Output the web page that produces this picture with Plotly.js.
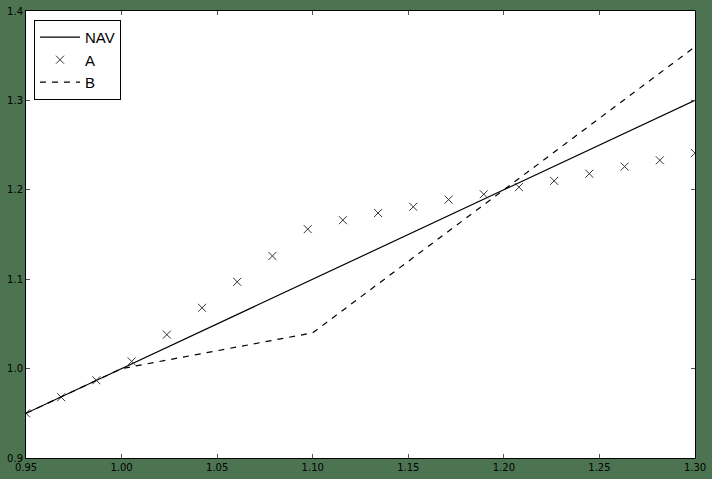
<!DOCTYPE html>
<html>
<head>
<meta charset="utf-8">
<script src="https://cdn.plot.ly/plotly-3.0.1.min.js"></script>
<style>html,body{margin:0;padding:0;background:#4c7450;}#chart{width:712px;height:479px;}</style>
</head>
<body>
<div id="chart"></div>
<script>
const navX = [0.95, 1.30];
const navY = [0.95, 1.30];

const aX = [0.9500, 0.9684, 0.9868, 1.0053, 1.0237, 1.0421, 1.0605, 1.0789, 1.0974, 1.1158,
            1.1342, 1.1526, 1.1711, 1.1895, 1.2079, 1.2263, 1.2447, 1.2632, 1.2816, 1.3000];
const aY = [0.950, 0.968, 0.987, 1.008, 1.038, 1.068, 1.097, 1.126, 1.156, 1.166,
            1.174, 1.181, 1.189, 1.195, 1.203, 1.210, 1.218, 1.226, 1.233, 1.241];

const bX = [0.95, 1.00, 1.10, 1.30];
const bY = [0.95, 1.00, 1.04, 1.36];

const xTicks = [0.95, 1.00, 1.05, 1.10, 1.15, 1.20, 1.25, 1.30];
const yTicks = [0.9, 1.0, 1.1, 1.2, 1.3, 1.4];

const traces = [
  {x: navX, y: navY, name: 'NAV', mode: 'lines', line: {color: 'black', width: 1.2}},
  {x: aX, y: aY, name: 'A', mode: 'markers',
   marker: {symbol: 'x-thin', size: 8, color: 'black', line: {color: '#333', width: 1}}},
  {x: bX, y: bY, name: 'B', mode: 'lines', line: {color: 'black', width: 1.2, dash: '6px,6px'}}
];

const axisCommon = {
  showgrid: false, zeroline: false, showline: true, linecolor: 'black', linewidth: 1,
  mirror: 'ticks', ticks: 'inside', ticklen: 4, tickcolor: '#555', tickwidth: 1,
  tickfont: {family: 'DejaVu Sans', size: 10, color: 'black'}
};

const layout = {
  width: 712, height: 479,
  paper_bgcolor: '#4c7450', plot_bgcolor: 'white',
  margin: {l: 26, r: 17, t: 11, b: 21},
  showlegend: true,
  xaxis: Object.assign({}, axisCommon, {range: [0.95, 1.30], tickvals: xTicks,
    ticktext: xTicks.map(v => v.toFixed(2))}),
  yaxis: Object.assign({}, axisCommon, {range: [0.9, 1.4], tickvals: yTicks,
    ticktext: yTicks.map(v => v.toFixed(1))}),
  legend: {x: 0.012, y: 0.98, xanchor: 'left', yanchor: 'top',
    bgcolor: 'white', bordercolor: 'black', borderwidth: 1,
    font: {family: 'Liberation Sans', size: 15, color: 'black'},
    itemwidth: 40, tracegroupgap: 0}
};

Plotly.newPlot('chart', traces, layout, {displayModeBar: false, staticPlot: true});
</script>
</body>
</html>
